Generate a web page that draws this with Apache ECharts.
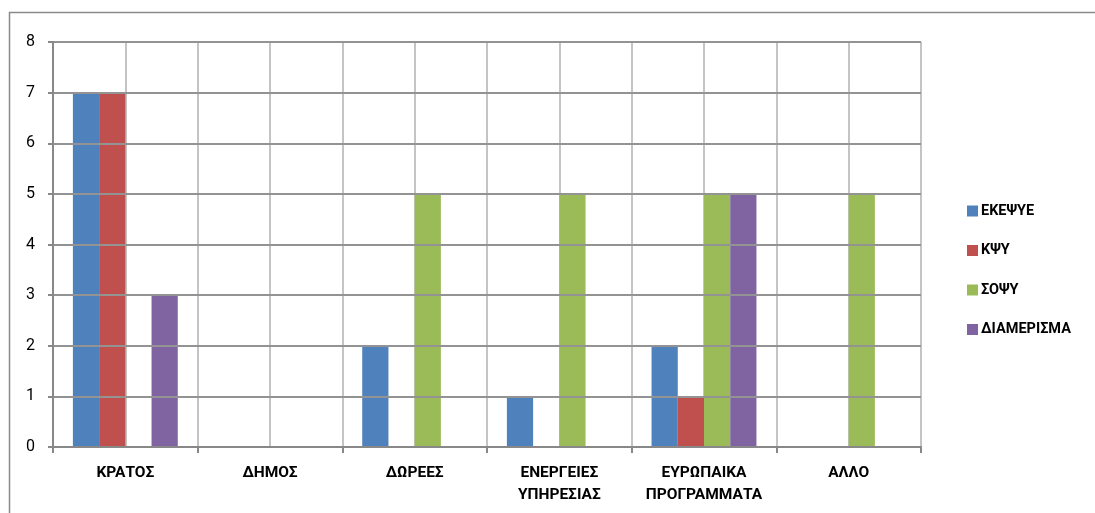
<!DOCTYPE html>
<html>
<head>
<meta charset="utf-8">
<script src="https://cdn.jsdelivr.net/npm/echarts@6/dist/echarts.min.js"></script>
<style>
  html, body { margin: 0; padding: 0; background: #ffffff; }
  #chart { width: 1095px; height: 513px; }
</style>
</head>
<body>
<div id="chart"></div>
<script>
// Funding sources per service
const categories = ['ΚΡΑΤΟΣ', 'ΔΗΜΟΣ', 'ΔΩΡΕΕΣ', 'ΕΝΕΡΓΕΙΕΣ\nΥΠΗΡΕΣΙΑΣ', 'ΕΥΡΩΠΑΙΚΑ\nΠΡΟΓΡΑΜΜΑΤΑ', 'ΑΛΛΟ'];
const seriesNames = ['ΕΚΕΨΥΕ', 'ΚΨΥ', 'ΣΟΨΥ', 'ΔΙΑΜΕΡΙΣΜΑ'];
const ekepsye = [7, 0, 2, 1, 2, 0];
const kpsy = [7, 0, 0, 0, 1, 0];
const sopsy = [0, 0, 5, 5, 5, 5];
const diamerisma = [3, 0, 0, 0, 5, 0];
const yTicks = { min: 0, max: 8, interval: 1 };

const colors = ['#4F81BD', '#C0504D', '#9BBB59', '#8064A2'];
const values = [ekepsye, kpsy, sopsy, diamerisma];
const font = 'Roboto';

// half-category helper axis, used only for the extra vertical grid lines
const halfSlots = [];
categories.forEach((c, i) => { halfSlots.push('a' + i, 'b' + i); });

const chart = echarts.init(document.getElementById('chart'), null, { renderer: 'canvas' });
chart.setOption({
  animation: false,
  backgroundColor: '#ffffff',
  color: colors,
  textStyle: { fontFamily: font },
  graphic: [{
    type: 'rect',
    shape: { x: 9.5, y: 12.5, width: 1200, height: 700 },
    style: { fill: 'none', stroke: '#8a8a8a', lineWidth: 1.5 },
    silent: true,
    z: 100
  }],
  grid: { left: 53, right: 174, top: 42, bottom: 66, containLabel: false },
  legend: {
    orient: 'vertical',
    left: 962,
    top: 198,
    itemWidth: 11,
    itemHeight: 11,
    itemGap: 23.5,
    icon: 'rect',
    textStyle: { fontFamily: font, fontSize: 14.5, fontWeight: 'bold', color: '#000000', lineHeight: 16, padding: [0, 0, 0, -2] },
    data: seriesNames
  },
  xAxis: [{
    type: 'category',
    data: categories,
    axisLine: { show: true, lineStyle: { color: '#888888', width: 2 } },
    axisTick: { show: true, length: 6, lineStyle: { color: '#888888', width: 2 } },
    axisLabel: { fontFamily: font, fontSize: 15.5, fontWeight: 'bold', color: '#000000', margin: 15, lineHeight: 22, interval: 0 },
    splitLine: { show: false },
    z: 5
  }, {
    type: 'category',
    data: halfSlots,
    position: 'bottom',
    axisLine: { show: false },
    axisTick: { show: false },
    axisLabel: { show: false },
    splitLine: { show: true, lineStyle: { color: '#c4c4c4', width: 2 } }
  }],
  yAxis: {
    type: 'value',
    min: yTicks.min,
    max: yTicks.max,
    interval: yTicks.interval,
    axisLine: { show: true, lineStyle: { color: '#888888', width: 2 } },
    axisTick: { show: true, length: 5, lineStyle: { color: '#888888', width: 2 } },
    axisLabel: { fontFamily: font, fontSize: 16, color: '#000000', margin: 18 },
    splitLine: { show: true, lineStyle: { color: '#939393', width: 2 } },
    z: 5
  },
  series: seriesNames.map((name, i) => ({
    name: name,
    type: 'bar',
    xAxisIndex: 0,
    data: values[i],
    barGap: '0%',
    barCategoryGap: '27.5%',
    itemStyle: { color: colors[i] },
    z: 3
  }))
});
</script>
</body>
</html>
